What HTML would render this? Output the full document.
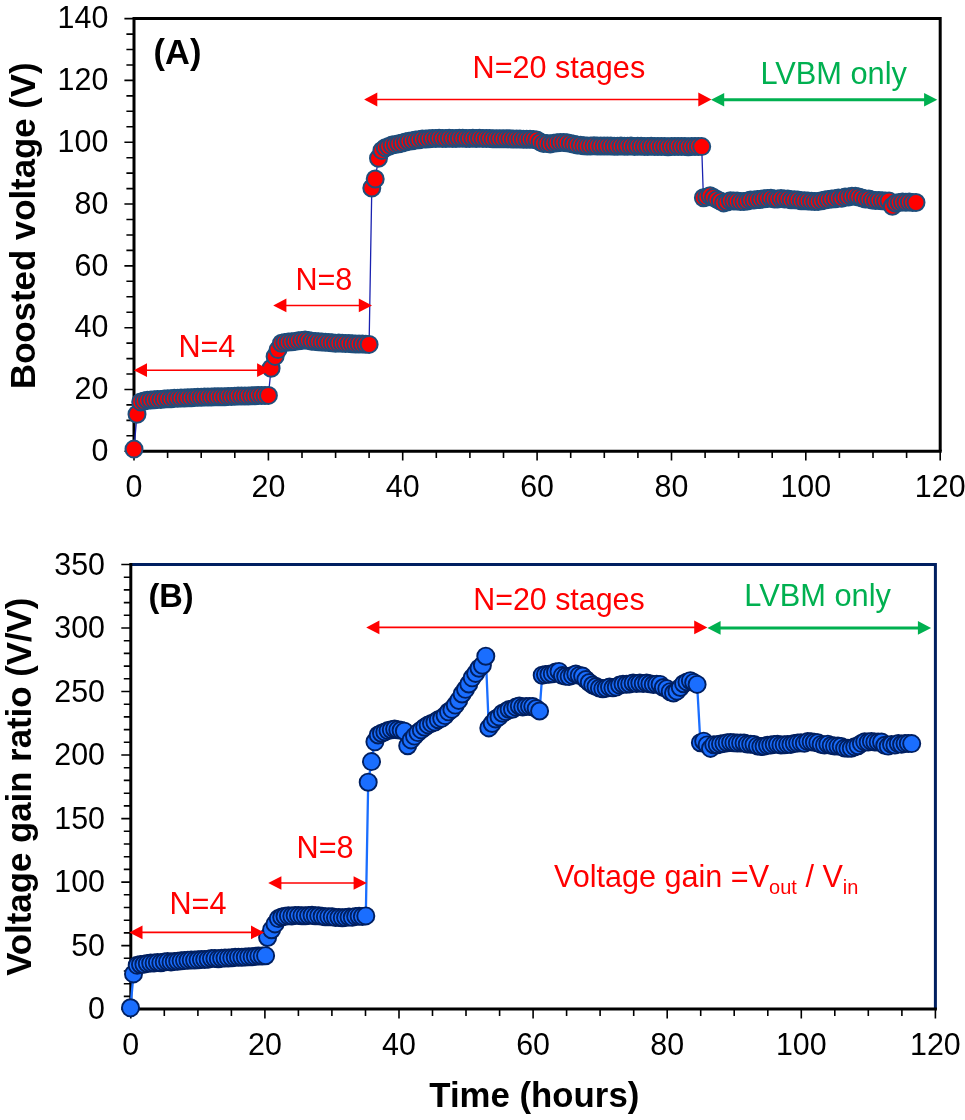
<!DOCTYPE html><html><head><meta charset="utf-8"><title>Boosted voltage and voltage gain ratio</title>
<style>html,body{margin:0;padding:0;background:#fff}svg{display:block;will-change:transform}text{font-family:'Liberation Sans', Arial, Helvetica, sans-serif}</style></head><body>
<svg width="965" height="1120" viewBox="0 0 965 1120">
<rect width="965" height="1120" fill="#fff"/>
<path d="M134 18.6H940.2V451.3" fill="none" stroke="#000" stroke-width="3" stroke-linejoin="miter"/>
<path d="M124.4 451.3H134M126.4 435.8H134M126.4 420.4H134M126.4 404.9H134M124.4 389.5H134M126.4 374H134M126.4 358.6H134M126.4 343.1H134M124.4 327.7H134M126.4 312.2H134M126.4 296.8H134M126.4 281.3H134M124.4 265.9H134M126.4 250.4H134M126.4 235H134M126.4 219.5H134M124.4 204H134M126.4 188.6H134M126.4 173.1H134M126.4 157.7H134M124.4 142.2H134M126.4 126.8H134M126.4 111.3H134M126.4 95.9H134M124.4 80.4H134M126.4 65H134M126.4 49.5H134M126.4 34.1H134M124.4 18.6H134M134 451.3V460.6M167.6 451.3V458.1M201.2 451.3V458.1M234.8 451.3V458.1M268.4 451.3V460.6M302 451.3V458.1M335.6 451.3V458.1M369.1 451.3V458.1M402.7 451.3V460.6M436.3 451.3V458.1M469.9 451.3V458.1M503.5 451.3V458.1M537.1 451.3V460.6M570.7 451.3V458.1M604.3 451.3V458.1M637.9 451.3V458.1M671.5 451.3V460.6M705.1 451.3V458.1M738.6 451.3V458.1M772.2 451.3V458.1M805.8 451.3V460.6M839.4 451.3V458.1M873 451.3V458.1M906.6 451.3V458.1M940.2 451.3V460.6" fill="none" stroke="#000" stroke-width="1.6"/>
<path d="M134 17.1V451.3H941.7" fill="none" stroke="#000" stroke-width="3" stroke-linejoin="miter"/>
<text transform="translate(108.3 460.9) scale(1 1.045)" font-size="30.4" fill="#000" text-anchor="end">0</text>
<text transform="translate(108.3 399.1) scale(1 1.045)" font-size="30.4" fill="#000" text-anchor="end">20</text>
<text transform="translate(108.3 337.3) scale(1 1.045)" font-size="30.4" fill="#000" text-anchor="end">40</text>
<text transform="translate(108.3 275.5) scale(1 1.045)" font-size="30.4" fill="#000" text-anchor="end">60</text>
<text transform="translate(108.3 213.6) scale(1 1.045)" font-size="30.4" fill="#000" text-anchor="end">80</text>
<text transform="translate(108.3 151.8) scale(1 1.045)" font-size="30.4" fill="#000" text-anchor="end">100</text>
<text transform="translate(108.3 90) scale(1 1.045)" font-size="30.4" fill="#000" text-anchor="end">120</text>
<text transform="translate(108.3 28.2) scale(1 1.045)" font-size="30.4" fill="#000" text-anchor="end">140</text>
<text transform="translate(134 496.6) scale(1 1.045)" font-size="30.4" fill="#000" text-anchor="middle">0</text>
<text transform="translate(268.4 496.6) scale(1 1.045)" font-size="30.4" fill="#000" text-anchor="middle">20</text>
<text transform="translate(402.7 496.6) scale(1 1.045)" font-size="30.4" fill="#000" text-anchor="middle">40</text>
<text transform="translate(537.1 496.6) scale(1 1.045)" font-size="30.4" fill="#000" text-anchor="middle">60</text>
<text transform="translate(671.5 496.6) scale(1 1.045)" font-size="30.4" fill="#000" text-anchor="middle">80</text>
<text transform="translate(805.8 496.6) scale(1 1.045)" font-size="30.4" fill="#000" text-anchor="middle">100</text>
<text transform="translate(940.2 496.6) scale(1 1.045)" font-size="30.4" fill="#000" text-anchor="middle">120</text>
<path d="M134 449.1L137 414.2L140.7 401.9L144.1 401.1L147.4 400.3L150.8 400L154.2 399.8L157.5 399.6L160.9 399.4L164.2 398.9L167.6 398.8L171 398.7L174.3 398.3L177.7 398.3L181 398.1L184.4 398L187.7 397.8L191.1 397.8L194.5 397.5L197.8 397.3L201.2 397.2L204.5 397.1L207.9 397L211.3 397L214.6 396.8L218 396.7L221.3 396.7L224.7 396.7L228.1 396.4L231.4 396.4L234.8 396.2L238.1 396.1L241.5 396L244.9 395.9L248.2 395.9L251.6 395.7L254.9 395.7L258.3 395.5L261.6 395.4L265 395.6L268.4 395.4L271.1 368.2L275.1 356.4L278.1 349.6L281.5 343.2L284.8 342.4L288.2 342.1L291.6 341.7L295 341.4L298.3 340.8L301.7 340.4L305.1 340.1L308.4 340.6L311.8 341.2L315.2 341.4L318.6 341.8L321.9 342L325.3 342.3L328.7 342.5L332 342.8L335.4 343.2L338.8 343.1L342.2 343.2L345.5 343.4L348.9 343.6L352.3 343.7L355.7 344L359 343.9L362.4 344.1L365.8 344.3L369.1 344.4L371.8 188L375.2 179L378.5 158.3L381.9 150.4L385.3 147.8L388.6 146.6L392 145.1L395.4 144.5L398.7 143.8L402.1 143.1L405.5 142.1L408.8 141.2L412.2 140.8L415.6 140.1L418.9 139.8L422.3 139.1L425.7 139.1L429 138.7L432.4 138.5L435.8 138.5L439.1 138.3L442.5 138.5L445.9 138.6L449.2 138.3L452.6 138.5L456 138.4L459.3 138.3L462.7 138.2L466.1 138.4L469.4 138.5L472.8 138.2L476.2 138.5L479.5 138.3L482.9 138.4L486.3 138.6L489.6 138.6L493 138.7L496.4 138.7L499.7 138.7L503.1 138.8L506.5 138.8L509.8 138.8L513.2 139L516.6 139.1L519.9 139.1L523.3 139.3L526.7 139.3L530 139.2L533.4 139.4L536.8 139.9L540.1 141.9L543.5 143.5L546.9 143.6L550.2 143.9L553.6 143.3L557 142.7L560.3 142.4L563.7 142.5L567 142.8L570.4 143.4L573.8 144.3L577.1 144.9L580.5 145.2L583.9 145.7L587.2 146L590.6 145.9L594 145.8L597.3 146.1L600.7 146L604.1 146L607.4 146.1L610.8 146.1L614.2 146.2L617.5 146.2L620.9 146.1L624.3 146.3L627.6 146.3L631 146.1L634.4 146.4L637.7 146.3L641.1 146.2L644.5 146.4L647.8 146.5L651.2 146.3L654.6 146.5L657.9 146.6L661.3 146.5L664.7 146.4L668 146.7L671.4 146.6L674.8 146.6L678.1 146.4L681.5 146.6L684.9 146.4L688.2 146.7L691.6 146.6L695 146.5L698.3 146.4L701.7 146.6L703.4 197.8L706.8 197L710.1 195.8L713.5 197.6L716.9 199.4L720.3 201.1L723.6 202.9L727 202L730.4 200.7L733.8 201L737.1 201.1L740.5 201.6L743.9 201.6L747.3 201L750.6 200.1L754 200L757.4 199.6L760.8 199.2L764.1 198.8L767.5 198.6L770.9 198.3L774.3 198.9L777.6 199.1L781 198.6L784.4 198.9L787.8 199.1L791.1 199.7L794.5 199.7L797.9 200L801.3 200.8L804.6 200.8L808 200.9L811.4 201.2L814.8 201.5L818.1 201.4L821.5 200.7L824.9 200.1L828.3 199.6L831.6 198.9L835 198.7L838.4 198L841.8 198.2L845.1 197.1L848.5 196.9L851.9 196.3L855.3 196.2L858.6 197L862 197.9L865.4 199L868.8 199.1L872.1 200.1L875.5 200.5L878.9 200.5L882.3 200.8L885.6 201.1L889 200.9L892.4 206.3L895.8 203.3L899.1 202.6L902.5 202.1L905.9 202.2L909.3 202.1L912.6 202.5L916 202.5" fill="none" stroke="#1a22b0" stroke-width="1.3" stroke-linejoin="round"/>
<g fill="#ff0000" stroke="#1f4e7c" stroke-width="2.0">
<circle cx="134" cy="449.1" r="8.5"/>
<circle cx="137" cy="414.2" r="8.5"/>
<circle cx="140.7" cy="401.9" r="8.5"/>
<circle cx="144.1" cy="401.1" r="8.5"/>
<circle cx="147.4" cy="400.3" r="8.5"/>
<circle cx="150.8" cy="400" r="8.5"/>
<circle cx="154.2" cy="399.8" r="8.5"/>
<circle cx="157.5" cy="399.6" r="8.5"/>
<circle cx="160.9" cy="399.4" r="8.5"/>
<circle cx="164.2" cy="398.9" r="8.5"/>
<circle cx="167.6" cy="398.8" r="8.5"/>
<circle cx="171" cy="398.7" r="8.5"/>
<circle cx="174.3" cy="398.3" r="8.5"/>
<circle cx="177.7" cy="398.3" r="8.5"/>
<circle cx="181" cy="398.1" r="8.5"/>
<circle cx="184.4" cy="398" r="8.5"/>
<circle cx="187.7" cy="397.8" r="8.5"/>
<circle cx="191.1" cy="397.8" r="8.5"/>
<circle cx="194.5" cy="397.5" r="8.5"/>
<circle cx="197.8" cy="397.3" r="8.5"/>
<circle cx="201.2" cy="397.2" r="8.5"/>
<circle cx="204.5" cy="397.1" r="8.5"/>
<circle cx="207.9" cy="397" r="8.5"/>
<circle cx="211.3" cy="397" r="8.5"/>
<circle cx="214.6" cy="396.8" r="8.5"/>
<circle cx="218" cy="396.7" r="8.5"/>
<circle cx="221.3" cy="396.7" r="8.5"/>
<circle cx="224.7" cy="396.7" r="8.5"/>
<circle cx="228.1" cy="396.4" r="8.5"/>
<circle cx="231.4" cy="396.4" r="8.5"/>
<circle cx="234.8" cy="396.2" r="8.5"/>
<circle cx="238.1" cy="396.1" r="8.5"/>
<circle cx="241.5" cy="396" r="8.5"/>
<circle cx="244.9" cy="395.9" r="8.5"/>
<circle cx="248.2" cy="395.9" r="8.5"/>
<circle cx="251.6" cy="395.7" r="8.5"/>
<circle cx="254.9" cy="395.7" r="8.5"/>
<circle cx="258.3" cy="395.5" r="8.5"/>
<circle cx="261.6" cy="395.4" r="8.5"/>
<circle cx="265" cy="395.6" r="8.5"/>
<circle cx="268.4" cy="395.4" r="8.5"/>
<circle cx="271.1" cy="368.2" r="8.5"/>
<circle cx="275.1" cy="356.4" r="8.5"/>
<circle cx="278.1" cy="349.6" r="8.5"/>
<circle cx="281.5" cy="343.2" r="8.5"/>
<circle cx="284.8" cy="342.4" r="8.5"/>
<circle cx="288.2" cy="342.1" r="8.5"/>
<circle cx="291.6" cy="341.7" r="8.5"/>
<circle cx="295" cy="341.4" r="8.5"/>
<circle cx="298.3" cy="340.8" r="8.5"/>
<circle cx="301.7" cy="340.4" r="8.5"/>
<circle cx="305.1" cy="340.1" r="8.5"/>
<circle cx="308.4" cy="340.6" r="8.5"/>
<circle cx="311.8" cy="341.2" r="8.5"/>
<circle cx="315.2" cy="341.4" r="8.5"/>
<circle cx="318.6" cy="341.8" r="8.5"/>
<circle cx="321.9" cy="342" r="8.5"/>
<circle cx="325.3" cy="342.3" r="8.5"/>
<circle cx="328.7" cy="342.5" r="8.5"/>
<circle cx="332" cy="342.8" r="8.5"/>
<circle cx="335.4" cy="343.2" r="8.5"/>
<circle cx="338.8" cy="343.1" r="8.5"/>
<circle cx="342.2" cy="343.2" r="8.5"/>
<circle cx="345.5" cy="343.4" r="8.5"/>
<circle cx="348.9" cy="343.6" r="8.5"/>
<circle cx="352.3" cy="343.7" r="8.5"/>
<circle cx="355.7" cy="344" r="8.5"/>
<circle cx="359" cy="343.9" r="8.5"/>
<circle cx="362.4" cy="344.1" r="8.5"/>
<circle cx="365.8" cy="344.3" r="8.5"/>
<circle cx="369.1" cy="344.4" r="8.5"/>
<circle cx="371.8" cy="188" r="8.5"/>
<circle cx="375.2" cy="179" r="8.5"/>
<circle cx="378.5" cy="158.3" r="8.5"/>
<circle cx="381.9" cy="150.4" r="8.5"/>
<circle cx="385.3" cy="147.8" r="8.5"/>
<circle cx="388.6" cy="146.6" r="8.5"/>
<circle cx="392" cy="145.1" r="8.5"/>
<circle cx="395.4" cy="144.5" r="8.5"/>
<circle cx="398.7" cy="143.8" r="8.5"/>
<circle cx="402.1" cy="143.1" r="8.5"/>
<circle cx="405.5" cy="142.1" r="8.5"/>
<circle cx="408.8" cy="141.2" r="8.5"/>
<circle cx="412.2" cy="140.8" r="8.5"/>
<circle cx="415.6" cy="140.1" r="8.5"/>
<circle cx="418.9" cy="139.8" r="8.5"/>
<circle cx="422.3" cy="139.1" r="8.5"/>
<circle cx="425.7" cy="139.1" r="8.5"/>
<circle cx="429" cy="138.7" r="8.5"/>
<circle cx="432.4" cy="138.5" r="8.5"/>
<circle cx="435.8" cy="138.5" r="8.5"/>
<circle cx="439.1" cy="138.3" r="8.5"/>
<circle cx="442.5" cy="138.5" r="8.5"/>
<circle cx="445.9" cy="138.6" r="8.5"/>
<circle cx="449.2" cy="138.3" r="8.5"/>
<circle cx="452.6" cy="138.5" r="8.5"/>
<circle cx="456" cy="138.4" r="8.5"/>
<circle cx="459.3" cy="138.3" r="8.5"/>
<circle cx="462.7" cy="138.2" r="8.5"/>
<circle cx="466.1" cy="138.4" r="8.5"/>
<circle cx="469.4" cy="138.5" r="8.5"/>
<circle cx="472.8" cy="138.2" r="8.5"/>
<circle cx="476.2" cy="138.5" r="8.5"/>
<circle cx="479.5" cy="138.3" r="8.5"/>
<circle cx="482.9" cy="138.4" r="8.5"/>
<circle cx="486.3" cy="138.6" r="8.5"/>
<circle cx="489.6" cy="138.6" r="8.5"/>
<circle cx="493" cy="138.7" r="8.5"/>
<circle cx="496.4" cy="138.7" r="8.5"/>
<circle cx="499.7" cy="138.7" r="8.5"/>
<circle cx="503.1" cy="138.8" r="8.5"/>
<circle cx="506.5" cy="138.8" r="8.5"/>
<circle cx="509.8" cy="138.8" r="8.5"/>
<circle cx="513.2" cy="139" r="8.5"/>
<circle cx="516.6" cy="139.1" r="8.5"/>
<circle cx="519.9" cy="139.1" r="8.5"/>
<circle cx="523.3" cy="139.3" r="8.5"/>
<circle cx="526.7" cy="139.3" r="8.5"/>
<circle cx="530" cy="139.2" r="8.5"/>
<circle cx="533.4" cy="139.4" r="8.5"/>
<circle cx="536.8" cy="139.9" r="8.5"/>
<circle cx="540.1" cy="141.9" r="8.5"/>
<circle cx="543.5" cy="143.5" r="8.5"/>
<circle cx="546.9" cy="143.6" r="8.5"/>
<circle cx="550.2" cy="143.9" r="8.5"/>
<circle cx="553.6" cy="143.3" r="8.5"/>
<circle cx="557" cy="142.7" r="8.5"/>
<circle cx="560.3" cy="142.4" r="8.5"/>
<circle cx="563.7" cy="142.5" r="8.5"/>
<circle cx="567" cy="142.8" r="8.5"/>
<circle cx="570.4" cy="143.4" r="8.5"/>
<circle cx="573.8" cy="144.3" r="8.5"/>
<circle cx="577.1" cy="144.9" r="8.5"/>
<circle cx="580.5" cy="145.2" r="8.5"/>
<circle cx="583.9" cy="145.7" r="8.5"/>
<circle cx="587.2" cy="146" r="8.5"/>
<circle cx="590.6" cy="145.9" r="8.5"/>
<circle cx="594" cy="145.8" r="8.5"/>
<circle cx="597.3" cy="146.1" r="8.5"/>
<circle cx="600.7" cy="146" r="8.5"/>
<circle cx="604.1" cy="146" r="8.5"/>
<circle cx="607.4" cy="146.1" r="8.5"/>
<circle cx="610.8" cy="146.1" r="8.5"/>
<circle cx="614.2" cy="146.2" r="8.5"/>
<circle cx="617.5" cy="146.2" r="8.5"/>
<circle cx="620.9" cy="146.1" r="8.5"/>
<circle cx="624.3" cy="146.3" r="8.5"/>
<circle cx="627.6" cy="146.3" r="8.5"/>
<circle cx="631" cy="146.1" r="8.5"/>
<circle cx="634.4" cy="146.4" r="8.5"/>
<circle cx="637.7" cy="146.3" r="8.5"/>
<circle cx="641.1" cy="146.2" r="8.5"/>
<circle cx="644.5" cy="146.4" r="8.5"/>
<circle cx="647.8" cy="146.5" r="8.5"/>
<circle cx="651.2" cy="146.3" r="8.5"/>
<circle cx="654.6" cy="146.5" r="8.5"/>
<circle cx="657.9" cy="146.6" r="8.5"/>
<circle cx="661.3" cy="146.5" r="8.5"/>
<circle cx="664.7" cy="146.4" r="8.5"/>
<circle cx="668" cy="146.7" r="8.5"/>
<circle cx="671.4" cy="146.6" r="8.5"/>
<circle cx="674.8" cy="146.6" r="8.5"/>
<circle cx="678.1" cy="146.4" r="8.5"/>
<circle cx="681.5" cy="146.6" r="8.5"/>
<circle cx="684.9" cy="146.4" r="8.5"/>
<circle cx="688.2" cy="146.7" r="8.5"/>
<circle cx="691.6" cy="146.6" r="8.5"/>
<circle cx="695" cy="146.5" r="8.5"/>
<circle cx="698.3" cy="146.4" r="8.5"/>
<circle cx="701.7" cy="146.6" r="8.5"/>
<circle cx="703.4" cy="197.8" r="8.5"/>
<circle cx="706.8" cy="197" r="8.5"/>
<circle cx="710.1" cy="195.8" r="8.5"/>
<circle cx="713.5" cy="197.6" r="8.5"/>
<circle cx="716.9" cy="199.4" r="8.5"/>
<circle cx="720.3" cy="201.1" r="8.5"/>
<circle cx="723.6" cy="202.9" r="8.5"/>
<circle cx="727" cy="202" r="8.5"/>
<circle cx="730.4" cy="200.7" r="8.5"/>
<circle cx="733.8" cy="201" r="8.5"/>
<circle cx="737.1" cy="201.1" r="8.5"/>
<circle cx="740.5" cy="201.6" r="8.5"/>
<circle cx="743.9" cy="201.6" r="8.5"/>
<circle cx="747.3" cy="201" r="8.5"/>
<circle cx="750.6" cy="200.1" r="8.5"/>
<circle cx="754" cy="200" r="8.5"/>
<circle cx="757.4" cy="199.6" r="8.5"/>
<circle cx="760.8" cy="199.2" r="8.5"/>
<circle cx="764.1" cy="198.8" r="8.5"/>
<circle cx="767.5" cy="198.6" r="8.5"/>
<circle cx="770.9" cy="198.3" r="8.5"/>
<circle cx="774.3" cy="198.9" r="8.5"/>
<circle cx="777.6" cy="199.1" r="8.5"/>
<circle cx="781" cy="198.6" r="8.5"/>
<circle cx="784.4" cy="198.9" r="8.5"/>
<circle cx="787.8" cy="199.1" r="8.5"/>
<circle cx="791.1" cy="199.7" r="8.5"/>
<circle cx="794.5" cy="199.7" r="8.5"/>
<circle cx="797.9" cy="200" r="8.5"/>
<circle cx="801.3" cy="200.8" r="8.5"/>
<circle cx="804.6" cy="200.8" r="8.5"/>
<circle cx="808" cy="200.9" r="8.5"/>
<circle cx="811.4" cy="201.2" r="8.5"/>
<circle cx="814.8" cy="201.5" r="8.5"/>
<circle cx="818.1" cy="201.4" r="8.5"/>
<circle cx="821.5" cy="200.7" r="8.5"/>
<circle cx="824.9" cy="200.1" r="8.5"/>
<circle cx="828.3" cy="199.6" r="8.5"/>
<circle cx="831.6" cy="198.9" r="8.5"/>
<circle cx="835" cy="198.7" r="8.5"/>
<circle cx="838.4" cy="198" r="8.5"/>
<circle cx="841.8" cy="198.2" r="8.5"/>
<circle cx="845.1" cy="197.1" r="8.5"/>
<circle cx="848.5" cy="196.9" r="8.5"/>
<circle cx="851.9" cy="196.3" r="8.5"/>
<circle cx="855.3" cy="196.2" r="8.5"/>
<circle cx="858.6" cy="197" r="8.5"/>
<circle cx="862" cy="197.9" r="8.5"/>
<circle cx="865.4" cy="199" r="8.5"/>
<circle cx="868.8" cy="199.1" r="8.5"/>
<circle cx="872.1" cy="200.1" r="8.5"/>
<circle cx="875.5" cy="200.5" r="8.5"/>
<circle cx="878.9" cy="200.5" r="8.5"/>
<circle cx="882.3" cy="200.8" r="8.5"/>
<circle cx="885.6" cy="201.1" r="8.5"/>
<circle cx="889" cy="200.9" r="8.5"/>
<circle cx="892.4" cy="206.3" r="8.5"/>
<circle cx="895.8" cy="203.3" r="8.5"/>
<circle cx="899.1" cy="202.6" r="8.5"/>
<circle cx="902.5" cy="202.1" r="8.5"/>
<circle cx="905.9" cy="202.2" r="8.5"/>
<circle cx="909.3" cy="202.1" r="8.5"/>
<circle cx="912.6" cy="202.5" r="8.5"/>
<circle cx="916" cy="202.5" r="8.5"/>
</g>
<path d="M146 370.2H258.1" stroke="#ff0000" stroke-width="1.5" fill="none"/>
<path d="M133.8 370.2L147 363.3V377.1ZM270.3 370.2L257.1 363.3V377.1Z" fill="#ff0000"/>
<path d="M285.4 305.4H359.8" stroke="#ff0000" stroke-width="1.5" fill="none"/>
<path d="M273.2 305.4L286.4 298.5V312.3ZM372 305.4L358.8 298.5V312.3Z" fill="#ff0000"/>
<path d="M376.3 99.5H699.3" stroke="#ff0000" stroke-width="1.5" fill="none"/>
<path d="M364.1 99.5L377.3 92.6V106.4ZM711.5 99.5L698.3 92.6V106.4Z" fill="#ff0000"/>
<path d="M723.2 99.8H925.1" stroke="#00b050" stroke-width="3" fill="none"/>
<path d="M711 99.8L724.2 93V106.6ZM937.3 99.8L924.1 93V106.6Z" fill="#00b050"/>
<text transform="translate(178.4 357.2) scale(1 1.04)" font-size="30.6" fill="#ff0000">N=4</text>
<text transform="translate(295.4 290.1) scale(1 1.04)" font-size="30.6" fill="#ff0000">N=8</text>
<text transform="translate(472.6 77.9) scale(1 1.03)" font-size="30.6" fill="#ff0000">N=20 stages</text>
<text transform="translate(760.4 83.9) scale(1 1.03)" font-size="30.8" fill="#00b050">LVBM only</text>
<text transform="translate(153.6 63.8) scale(1 1.03)" font-size="34.4" fill="#000" font-weight="bold">(A)</text>
<text transform="translate(34.8 225.7) rotate(-90) scale(1 1.025)" font-size="34.8" fill="#000" text-anchor="middle" font-weight="bold">Boosted voltage (V)</text>
<path d="M130.8 564.5H935.4V1009.1" fill="none" stroke="#001f60" stroke-width="3" stroke-linejoin="miter"/>
<path d="M121.3 1009.1H130.8M123.8 996.4H130.8M123.8 983.7H130.8M123.8 971H130.8M123.8 958.3H130.8M121.3 945.6H130.8M123.8 932.9H130.8M123.8 920.2H130.8M123.8 907.5H130.8M123.8 894.8H130.8M121.3 882.1H130.8M123.8 869.4H130.8M123.8 856.7H130.8M123.8 844H130.8M123.8 831.3H130.8M121.3 818.6H130.8M123.8 805.9H130.8M123.8 793.2H130.8M123.8 780.4H130.8M123.8 767.7H130.8M121.3 755H130.8M123.8 742.3H130.8M123.8 729.6H130.8M123.8 716.9H130.8M123.8 704.2H130.8M121.3 691.5H130.8M123.8 678.8H130.8M123.8 666.1H130.8M123.8 653.4H130.8M123.8 640.7H130.8M121.3 628H130.8M123.8 615.3H130.8M123.8 602.6H130.8M123.8 589.9H130.8M123.8 577.2H130.8M121.3 564.5H130.8M130.8 1009.1V1018.4M164.3 1009.1V1015.9M197.9 1009.1V1015.9M231.4 1009.1V1015.9M264.9 1009.1V1018.4M298.4 1009.1V1015.9M331.9 1009.1V1015.9M365.5 1009.1V1015.9M399 1009.1V1018.4M432.5 1009.1V1015.9M466 1009.1V1015.9M499.6 1009.1V1015.9M533.1 1009.1V1018.4M566.6 1009.1V1015.9M600.1 1009.1V1015.9M633.7 1009.1V1015.9M667.2 1009.1V1018.4M700.7 1009.1V1015.9M734.2 1009.1V1015.9M767.8 1009.1V1015.9M801.3 1009.1V1018.4M834.8 1009.1V1015.9M868.3 1009.1V1015.9M901.9 1009.1V1015.9M935.4 1009.1V1018.4" fill="none" stroke="#000" stroke-width="1.6"/>
<path d="M130.8 563V1009.1H936.9" fill="none" stroke="#000" stroke-width="3" stroke-linejoin="miter"/>
<text transform="translate(105 1019.3) scale(1 1.045)" font-size="30.4" fill="#000" text-anchor="end">0</text>
<text transform="translate(105 955.8) scale(1 1.045)" font-size="30.4" fill="#000" text-anchor="end">50</text>
<text transform="translate(105 892.3) scale(1 1.045)" font-size="30.4" fill="#000" text-anchor="end">100</text>
<text transform="translate(105 828.8) scale(1 1.045)" font-size="30.4" fill="#000" text-anchor="end">150</text>
<text transform="translate(105 765.2) scale(1 1.045)" font-size="30.4" fill="#000" text-anchor="end">200</text>
<text transform="translate(105 701.7) scale(1 1.045)" font-size="30.4" fill="#000" text-anchor="end">250</text>
<text transform="translate(105 638.2) scale(1 1.045)" font-size="30.4" fill="#000" text-anchor="end">300</text>
<text transform="translate(105 574.7) scale(1 1.045)" font-size="30.4" fill="#000" text-anchor="end">350</text>
<text transform="translate(130.8 1054.7) scale(1 1.045)" font-size="30.4" fill="#000" text-anchor="middle">0</text>
<text transform="translate(264.9 1054.7) scale(1 1.045)" font-size="30.4" fill="#000" text-anchor="middle">20</text>
<text transform="translate(399 1054.7) scale(1 1.045)" font-size="30.4" fill="#000" text-anchor="middle">40</text>
<text transform="translate(533.1 1054.7) scale(1 1.045)" font-size="30.4" fill="#000" text-anchor="middle">60</text>
<text transform="translate(667.2 1054.7) scale(1 1.045)" font-size="30.4" fill="#000" text-anchor="middle">80</text>
<text transform="translate(801.3 1054.7) scale(1 1.045)" font-size="30.4" fill="#000" text-anchor="middle">100</text>
<text transform="translate(935.4 1054.7) scale(1 1.045)" font-size="30.4" fill="#000" text-anchor="middle">120</text>
<path d="M130.5 1007.8L133.5 973.9L137.2 965.3L140.5 964.5L143.9 964.3L147.3 963.5L150.7 963.1L154.1 962.9L157.4 962.5L160.8 962.7L164.2 962L167.6 961.6L171 961.9L174.3 961.5L177.7 961.2L181.1 960.8L184.5 960.6L187.9 960.3L191.2 959.9L194.6 960.1L198 959.8L201.4 959.6L204.7 959.4L208.1 959.2L211.5 958.5L214.9 958.4L218.3 958.7L221.6 958.2L225 958.1L228.4 957.9L231.8 957.7L235.2 957.3L238.5 957.2L241.9 957.2L245.3 957.1L248.7 956.8L252.1 956.7L255.4 956.3L258.8 956L262.2 956L265.6 955.7L267.6 937.5L271.6 929.7L275 923.9L278.3 918.6L281.7 917L285 916.3L288.4 915.8L291.8 915.9L295.1 915.4L298.5 915.5L301.9 915.7L305.2 915.7L308.6 915.5L312 915.3L315.3 915.8L318.7 915.8L322.1 916.3L325.4 916.8L328.8 916.7L332.2 916.8L335.5 917.6L338.9 917.5L342.3 917.7L345.6 917.4L349 917L352.3 917.3L355.7 916.4L359.1 916.2L362.4 916.4L365.8 915.9L368.2 782.2L371.5 761.6L374.9 741.8L378.2 735L381.5 733.2L384.8 731.9L388 730.6L391.3 729.7L394.6 729L397.8 729.7L401.1 730.3L404.4 731.2L407.7 745.7L411.1 739.9L414.5 736.1L417.9 732.6L421.3 729.9L424.7 727.2L428.1 724.9L431.5 723.4L434.9 722.1L438.3 719.7L441.7 718.3L445.1 715.6L448.5 711.8L451.9 709.4L455.3 705.1L458.7 700.4L462.1 694L465.5 689.3L468.8 684L472.2 677.8L475.6 673.4L479 668.2L482.4 665.2L485.8 656.2L488.8 727.9L492.2 723.5L495.6 719L499 716.9L502.4 713.2L505.8 711.6L509.1 709.5L512.5 709.2L515.9 707.1L519.3 706L522.7 706.9L526.1 706.5L529.5 706.4L532.8 706.6L536.2 708.5L539.6 711L542.2 675.2L545.5 674.6L548.9 674.3L552.3 673.7L555.6 672.1L559 671.4L562.4 675.6L565.7 676.3L569.1 676.6L572.5 675.4L575.8 674L579.2 675.4L582.6 676.1L585.9 679.5L589.3 682.5L592.7 685L596 686.5L599.4 688L602.8 688.7L606.2 688.2L609.5 687.1L612.9 687.8L616.3 687.1L619.6 685.1L623 684.2L626.4 684.3L629.7 683.9L633.1 683L636.5 683.5L639.8 683.1L643.2 683.5L646.6 683L649.9 683.8L653.3 684.5L656.7 684.2L660.1 684.4L663.4 687.5L666.8 688.7L670.2 691.7L673.5 693L676.9 691.1L680.3 687.5L683.6 683.7L687 681.9L690.4 680.7L693.7 682.4L697.1 684.4L700.4 742.7L703.7 741.2L707.1 744.9L710.5 748.4L713.8 744.7L717.2 744.7L720.5 743.9L723.9 743.6L727.2 742.7L730.6 742.4L733.9 742.7L737.3 743.1L740.6 742.9L744 743L747.3 744.1L750.7 744.2L754 744.5L757.4 745.9L760.8 746.5L764.1 746.2L767.5 745.3L770.8 745.1L774.2 744.4L777.5 744.3L780.9 744.9L784.2 744.7L787.6 744.4L790.9 744.4L794.3 743.5L797.6 743.1L801 742.8L804.4 743.2L807.7 741.6L811.1 741.8L814.4 742.3L817.8 742.7L821.1 744.4L824.5 744.9L827.8 744.2L831.2 745.5L834.5 745.9L837.9 746.1L841.2 746.4L844.6 748.1L847.9 748.3L851.3 748.2L854.7 746.8L858 745.7L861.4 743.4L864.7 741.8L868.1 742.1L871.4 741.4L874.8 741.9L878.1 742L881.5 742L884.8 745.3L888.2 746.1L891.5 744.4L894.9 745L898.3 743.6L901.6 744.3L905 743.6L908.3 743.4L911.7 743.6" fill="none" stroke="#1a6eff" stroke-width="2.3" stroke-linejoin="round"/>
<g fill="#1a6eff" stroke="#001f60" stroke-width="1.9">
<circle cx="130.5" cy="1007.8" r="8.55"/>
<circle cx="133.5" cy="973.9" r="8.55"/>
<circle cx="137.2" cy="965.3" r="8.55"/>
<circle cx="140.5" cy="964.5" r="8.55"/>
<circle cx="143.9" cy="964.3" r="8.55"/>
<circle cx="147.3" cy="963.5" r="8.55"/>
<circle cx="150.7" cy="963.1" r="8.55"/>
<circle cx="154.1" cy="962.9" r="8.55"/>
<circle cx="157.4" cy="962.5" r="8.55"/>
<circle cx="160.8" cy="962.7" r="8.55"/>
<circle cx="164.2" cy="962" r="8.55"/>
<circle cx="167.6" cy="961.6" r="8.55"/>
<circle cx="171" cy="961.9" r="8.55"/>
<circle cx="174.3" cy="961.5" r="8.55"/>
<circle cx="177.7" cy="961.2" r="8.55"/>
<circle cx="181.1" cy="960.8" r="8.55"/>
<circle cx="184.5" cy="960.6" r="8.55"/>
<circle cx="187.9" cy="960.3" r="8.55"/>
<circle cx="191.2" cy="959.9" r="8.55"/>
<circle cx="194.6" cy="960.1" r="8.55"/>
<circle cx="198" cy="959.8" r="8.55"/>
<circle cx="201.4" cy="959.6" r="8.55"/>
<circle cx="204.7" cy="959.4" r="8.55"/>
<circle cx="208.1" cy="959.2" r="8.55"/>
<circle cx="211.5" cy="958.5" r="8.55"/>
<circle cx="214.9" cy="958.4" r="8.55"/>
<circle cx="218.3" cy="958.7" r="8.55"/>
<circle cx="221.6" cy="958.2" r="8.55"/>
<circle cx="225" cy="958.1" r="8.55"/>
<circle cx="228.4" cy="957.9" r="8.55"/>
<circle cx="231.8" cy="957.7" r="8.55"/>
<circle cx="235.2" cy="957.3" r="8.55"/>
<circle cx="238.5" cy="957.2" r="8.55"/>
<circle cx="241.9" cy="957.2" r="8.55"/>
<circle cx="245.3" cy="957.1" r="8.55"/>
<circle cx="248.7" cy="956.8" r="8.55"/>
<circle cx="252.1" cy="956.7" r="8.55"/>
<circle cx="255.4" cy="956.3" r="8.55"/>
<circle cx="258.8" cy="956" r="8.55"/>
<circle cx="262.2" cy="956" r="8.55"/>
<circle cx="265.6" cy="955.7" r="8.55"/>
<circle cx="267.6" cy="937.5" r="8.55"/>
<circle cx="271.6" cy="929.7" r="8.55"/>
<circle cx="275" cy="923.9" r="8.55"/>
<circle cx="278.3" cy="918.6" r="8.55"/>
<circle cx="281.7" cy="917" r="8.55"/>
<circle cx="285" cy="916.3" r="8.55"/>
<circle cx="288.4" cy="915.8" r="8.55"/>
<circle cx="291.8" cy="915.9" r="8.55"/>
<circle cx="295.1" cy="915.4" r="8.55"/>
<circle cx="298.5" cy="915.5" r="8.55"/>
<circle cx="301.9" cy="915.7" r="8.55"/>
<circle cx="305.2" cy="915.7" r="8.55"/>
<circle cx="308.6" cy="915.5" r="8.55"/>
<circle cx="312" cy="915.3" r="8.55"/>
<circle cx="315.3" cy="915.8" r="8.55"/>
<circle cx="318.7" cy="915.8" r="8.55"/>
<circle cx="322.1" cy="916.3" r="8.55"/>
<circle cx="325.4" cy="916.8" r="8.55"/>
<circle cx="328.8" cy="916.7" r="8.55"/>
<circle cx="332.2" cy="916.8" r="8.55"/>
<circle cx="335.5" cy="917.6" r="8.55"/>
<circle cx="338.9" cy="917.5" r="8.55"/>
<circle cx="342.3" cy="917.7" r="8.55"/>
<circle cx="345.6" cy="917.4" r="8.55"/>
<circle cx="349" cy="917" r="8.55"/>
<circle cx="352.3" cy="917.3" r="8.55"/>
<circle cx="355.7" cy="916.4" r="8.55"/>
<circle cx="359.1" cy="916.2" r="8.55"/>
<circle cx="362.4" cy="916.4" r="8.55"/>
<circle cx="365.8" cy="915.9" r="8.55"/>
<circle cx="368.2" cy="782.2" r="8.55"/>
<circle cx="371.5" cy="761.6" r="8.55"/>
<circle cx="374.9" cy="741.8" r="8.55"/>
<circle cx="378.2" cy="735" r="8.55"/>
<circle cx="381.5" cy="733.2" r="8.55"/>
<circle cx="384.8" cy="731.9" r="8.55"/>
<circle cx="388" cy="730.6" r="8.55"/>
<circle cx="391.3" cy="729.7" r="8.55"/>
<circle cx="394.6" cy="729" r="8.55"/>
<circle cx="397.8" cy="729.7" r="8.55"/>
<circle cx="401.1" cy="730.3" r="8.55"/>
<circle cx="404.4" cy="731.2" r="8.55"/>
<circle cx="407.7" cy="745.7" r="8.55"/>
<circle cx="411.1" cy="739.9" r="8.55"/>
<circle cx="414.5" cy="736.1" r="8.55"/>
<circle cx="417.9" cy="732.6" r="8.55"/>
<circle cx="421.3" cy="729.9" r="8.55"/>
<circle cx="424.7" cy="727.2" r="8.55"/>
<circle cx="428.1" cy="724.9" r="8.55"/>
<circle cx="431.5" cy="723.4" r="8.55"/>
<circle cx="434.9" cy="722.1" r="8.55"/>
<circle cx="438.3" cy="719.7" r="8.55"/>
<circle cx="441.7" cy="718.3" r="8.55"/>
<circle cx="445.1" cy="715.6" r="8.55"/>
<circle cx="448.5" cy="711.8" r="8.55"/>
<circle cx="451.9" cy="709.4" r="8.55"/>
<circle cx="455.3" cy="705.1" r="8.55"/>
<circle cx="458.7" cy="700.4" r="8.55"/>
<circle cx="462.1" cy="694" r="8.55"/>
<circle cx="465.5" cy="689.3" r="8.55"/>
<circle cx="468.8" cy="684" r="8.55"/>
<circle cx="472.2" cy="677.8" r="8.55"/>
<circle cx="475.6" cy="673.4" r="8.55"/>
<circle cx="479" cy="668.2" r="8.55"/>
<circle cx="482.4" cy="665.2" r="8.55"/>
<circle cx="485.8" cy="656.2" r="8.55"/>
<circle cx="488.8" cy="727.9" r="8.55"/>
<circle cx="492.2" cy="723.5" r="8.55"/>
<circle cx="495.6" cy="719" r="8.55"/>
<circle cx="499" cy="716.9" r="8.55"/>
<circle cx="502.4" cy="713.2" r="8.55"/>
<circle cx="505.8" cy="711.6" r="8.55"/>
<circle cx="509.1" cy="709.5" r="8.55"/>
<circle cx="512.5" cy="709.2" r="8.55"/>
<circle cx="515.9" cy="707.1" r="8.55"/>
<circle cx="519.3" cy="706" r="8.55"/>
<circle cx="522.7" cy="706.9" r="8.55"/>
<circle cx="526.1" cy="706.5" r="8.55"/>
<circle cx="529.5" cy="706.4" r="8.55"/>
<circle cx="532.8" cy="706.6" r="8.55"/>
<circle cx="536.2" cy="708.5" r="8.55"/>
<circle cx="539.6" cy="711" r="8.55"/>
<circle cx="542.2" cy="675.2" r="8.55"/>
<circle cx="545.5" cy="674.6" r="8.55"/>
<circle cx="548.9" cy="674.3" r="8.55"/>
<circle cx="552.3" cy="673.7" r="8.55"/>
<circle cx="555.6" cy="672.1" r="8.55"/>
<circle cx="559" cy="671.4" r="8.55"/>
<circle cx="562.4" cy="675.6" r="8.55"/>
<circle cx="565.7" cy="676.3" r="8.55"/>
<circle cx="569.1" cy="676.6" r="8.55"/>
<circle cx="572.5" cy="675.4" r="8.55"/>
<circle cx="575.8" cy="674" r="8.55"/>
<circle cx="579.2" cy="675.4" r="8.55"/>
<circle cx="582.6" cy="676.1" r="8.55"/>
<circle cx="585.9" cy="679.5" r="8.55"/>
<circle cx="589.3" cy="682.5" r="8.55"/>
<circle cx="592.7" cy="685" r="8.55"/>
<circle cx="596" cy="686.5" r="8.55"/>
<circle cx="599.4" cy="688" r="8.55"/>
<circle cx="602.8" cy="688.7" r="8.55"/>
<circle cx="606.2" cy="688.2" r="8.55"/>
<circle cx="609.5" cy="687.1" r="8.55"/>
<circle cx="612.9" cy="687.8" r="8.55"/>
<circle cx="616.3" cy="687.1" r="8.55"/>
<circle cx="619.6" cy="685.1" r="8.55"/>
<circle cx="623" cy="684.2" r="8.55"/>
<circle cx="626.4" cy="684.3" r="8.55"/>
<circle cx="629.7" cy="683.9" r="8.55"/>
<circle cx="633.1" cy="683" r="8.55"/>
<circle cx="636.5" cy="683.5" r="8.55"/>
<circle cx="639.8" cy="683.1" r="8.55"/>
<circle cx="643.2" cy="683.5" r="8.55"/>
<circle cx="646.6" cy="683" r="8.55"/>
<circle cx="649.9" cy="683.8" r="8.55"/>
<circle cx="653.3" cy="684.5" r="8.55"/>
<circle cx="656.7" cy="684.2" r="8.55"/>
<circle cx="660.1" cy="684.4" r="8.55"/>
<circle cx="663.4" cy="687.5" r="8.55"/>
<circle cx="666.8" cy="688.7" r="8.55"/>
<circle cx="670.2" cy="691.7" r="8.55"/>
<circle cx="673.5" cy="693" r="8.55"/>
<circle cx="676.9" cy="691.1" r="8.55"/>
<circle cx="680.3" cy="687.5" r="8.55"/>
<circle cx="683.6" cy="683.7" r="8.55"/>
<circle cx="687" cy="681.9" r="8.55"/>
<circle cx="690.4" cy="680.7" r="8.55"/>
<circle cx="693.7" cy="682.4" r="8.55"/>
<circle cx="697.1" cy="684.4" r="8.55"/>
<circle cx="700.4" cy="742.7" r="8.55"/>
<circle cx="703.7" cy="741.2" r="8.55"/>
<circle cx="707.1" cy="744.9" r="8.55"/>
<circle cx="710.5" cy="748.4" r="8.55"/>
<circle cx="713.8" cy="744.7" r="8.55"/>
<circle cx="717.2" cy="744.7" r="8.55"/>
<circle cx="720.5" cy="743.9" r="8.55"/>
<circle cx="723.9" cy="743.6" r="8.55"/>
<circle cx="727.2" cy="742.7" r="8.55"/>
<circle cx="730.6" cy="742.4" r="8.55"/>
<circle cx="733.9" cy="742.7" r="8.55"/>
<circle cx="737.3" cy="743.1" r="8.55"/>
<circle cx="740.6" cy="742.9" r="8.55"/>
<circle cx="744" cy="743" r="8.55"/>
<circle cx="747.3" cy="744.1" r="8.55"/>
<circle cx="750.7" cy="744.2" r="8.55"/>
<circle cx="754" cy="744.5" r="8.55"/>
<circle cx="757.4" cy="745.9" r="8.55"/>
<circle cx="760.8" cy="746.5" r="8.55"/>
<circle cx="764.1" cy="746.2" r="8.55"/>
<circle cx="767.5" cy="745.3" r="8.55"/>
<circle cx="770.8" cy="745.1" r="8.55"/>
<circle cx="774.2" cy="744.4" r="8.55"/>
<circle cx="777.5" cy="744.3" r="8.55"/>
<circle cx="780.9" cy="744.9" r="8.55"/>
<circle cx="784.2" cy="744.7" r="8.55"/>
<circle cx="787.6" cy="744.4" r="8.55"/>
<circle cx="790.9" cy="744.4" r="8.55"/>
<circle cx="794.3" cy="743.5" r="8.55"/>
<circle cx="797.6" cy="743.1" r="8.55"/>
<circle cx="801" cy="742.8" r="8.55"/>
<circle cx="804.4" cy="743.2" r="8.55"/>
<circle cx="807.7" cy="741.6" r="8.55"/>
<circle cx="811.1" cy="741.8" r="8.55"/>
<circle cx="814.4" cy="742.3" r="8.55"/>
<circle cx="817.8" cy="742.7" r="8.55"/>
<circle cx="821.1" cy="744.4" r="8.55"/>
<circle cx="824.5" cy="744.9" r="8.55"/>
<circle cx="827.8" cy="744.2" r="8.55"/>
<circle cx="831.2" cy="745.5" r="8.55"/>
<circle cx="834.5" cy="745.9" r="8.55"/>
<circle cx="837.9" cy="746.1" r="8.55"/>
<circle cx="841.2" cy="746.4" r="8.55"/>
<circle cx="844.6" cy="748.1" r="8.55"/>
<circle cx="847.9" cy="748.3" r="8.55"/>
<circle cx="851.3" cy="748.2" r="8.55"/>
<circle cx="854.7" cy="746.8" r="8.55"/>
<circle cx="858" cy="745.7" r="8.55"/>
<circle cx="861.4" cy="743.4" r="8.55"/>
<circle cx="864.7" cy="741.8" r="8.55"/>
<circle cx="868.1" cy="742.1" r="8.55"/>
<circle cx="871.4" cy="741.4" r="8.55"/>
<circle cx="874.8" cy="741.9" r="8.55"/>
<circle cx="878.1" cy="742" r="8.55"/>
<circle cx="881.5" cy="742" r="8.55"/>
<circle cx="884.8" cy="745.3" r="8.55"/>
<circle cx="888.2" cy="746.1" r="8.55"/>
<circle cx="891.5" cy="744.4" r="8.55"/>
<circle cx="894.9" cy="745" r="8.55"/>
<circle cx="898.3" cy="743.6" r="8.55"/>
<circle cx="901.6" cy="744.3" r="8.55"/>
<circle cx="905" cy="743.6" r="8.55"/>
<circle cx="908.3" cy="743.4" r="8.55"/>
<circle cx="911.7" cy="743.6" r="8.55"/>
</g>
<path d="M141.5 932.4H252" stroke="#ff0000" stroke-width="1.7" fill="none"/>
<path d="M129.3 932.4L142.5 925.6V939.2ZM264.2 932.4L251 925.6V939.2Z" fill="#ff0000"/>
<path d="M280.4 883H354.6" stroke="#ff0000" stroke-width="1.7" fill="none"/>
<path d="M268.2 883L281.4 876.2V889.8ZM366.8 883L353.6 876.2V889.8Z" fill="#ff0000"/>
<path d="M378.4 627.4H695.2" stroke="#ff0000" stroke-width="1.7" fill="none"/>
<path d="M366.2 627.4L379.4 620.6V634.2ZM707.4 627.4L694.2 620.6V634.2Z" fill="#ff0000"/>
<path d="M719.6 627.9H918.9" stroke="#00b050" stroke-width="3" fill="none"/>
<path d="M707.4 627.9L720.6 621V634.8ZM931.1 627.9L917.9 621V634.8Z" fill="#00b050"/>
<text transform="translate(169.5 913.7) scale(1 1.04)" font-size="30.6" fill="#ff0000">N=4</text>
<text transform="translate(296.6 858.2) scale(1 1.04)" font-size="30.6" fill="#ff0000">N=8</text>
<text transform="translate(473.2 609.6) scale(1 1.03)" font-size="30.4" fill="#ff0000">N=20 stages</text>
<text transform="translate(554 887.2) scale(1 1.025)" font-size="30.6" fill="#ff0000">Voltage gain =V<tspan font-size="20" dy="6.8">out</tspan><tspan dy="-6.8"> / V</tspan><tspan font-size="20" dy="6.8">in</tspan></text>
<text transform="translate(744.3 605.5) scale(1 1.03)" font-size="30.8" fill="#00b050">LVBM only</text>
<text transform="translate(148.4 606.9) scale(1 1.02)" font-size="32.6" fill="#000" font-weight="bold">(B)</text>
<text transform="translate(31 786.7) rotate(-90) scale(1 1.025)" font-size="34.8" fill="#000" text-anchor="middle" font-weight="bold">Voltage gain ratio (V/V)</text>
<text transform="translate(534.3 1107.2) scale(1 1.025)" font-size="34.8" fill="#000" text-anchor="middle" font-weight="bold">Time (hours)</text>
</svg></body></html>
